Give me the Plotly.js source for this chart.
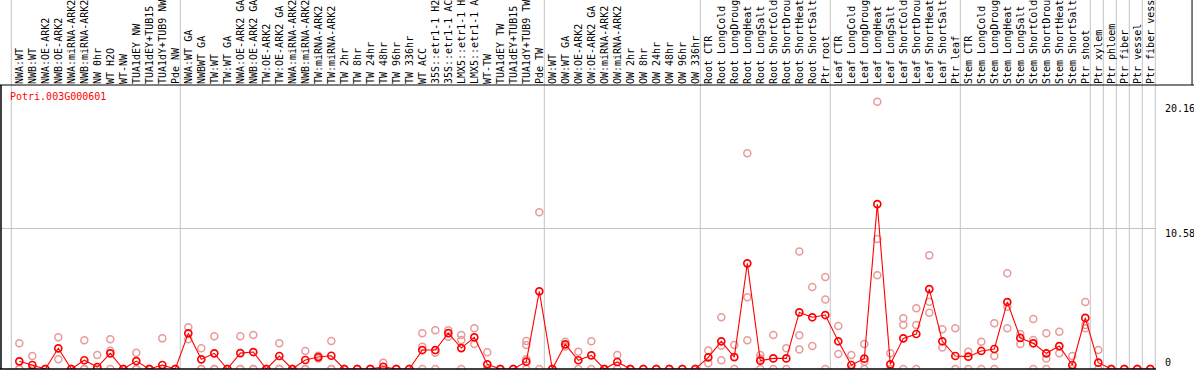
<!DOCTYPE html>
<html>
<head>
<meta charset="utf-8">
<script src="https://cdn.plot.ly/plotly-3.0.1.min.js"></script>
<style>
html,body{margin:0;padding:0;background:#ffffff;}
#chart{width:1194px;height:370px;}
</style>
</head>
<body>
<div id="chart"></div>
<script>
// ---------------- DATA ----------------
const geneName = "Potri.003G000601";

const categories = [
  "NWA:WT","NWB:WT","NWA:OE-ARK2","NWB:OE-ARK2","NWA:miRNA-ARK2","NWB:miRNA-ARK2","NW 0hr","WT H2O","WT-NW","TUA1dEY NW","TUA1dEY+TUB15 NW","TUA1dY+TUB9 NW","Pde NW",
  "NWA:WT GA","NWBWT GA","TW:WT","TW:WT GA","NWA:OE-ARK2 GA","NWB:OE-ARK2 GA","TW:OE-ARK2","TW:OE-ARK2 GA","NWA:miRNA-ARK2 GA","NWB:miRNA-ARK2 GA","TW:miRNA-ARK2","TW:miRNA-ARK2 GA",
  "TW 2hr","TW 8hr","TW 24hr","TW 48hr","TW 96hr","TW 336hr","WT ACC","35S::etr1-1 H2O","35S::etr1-1 ACC","LMX5::etr1-1 H2O","LMX5::etr1-1 ACC","WT-TW","TUA1dEY TW","TUA1dEY+TUB15 TW","TUA1dY+TUB9 TW","Pde TW",
  "OW:WT","OW:WT GA","OW:OE-ARK2","OW:OE-ARK2 GA","OW:miRNA-ARK2","OW:miRNA-ARK2 GA","OW 2hr","OW 8hr","OW 24hr","OW 48hr","OW 96hr","OW 336hr",
  "Root CTR","Root LongCold","Root LongDrought","Root LongHeat","Root LongSalt","Root ShortCold","Root ShortDrought","Root ShortHeat","Root ShortSalt","Ptr root",
  "Leaf CTR","Leaf LongCold","Leaf LongDrought","Leaf LongHeat","Leaf LongSalt","Leaf ShortCold","Leaf ShortDrought","Leaf ShortHeat","Leaf ShortSalt","Ptr leaf",
  "Stem CTR","Stem LongCold","Stem LongDrought","Stem LongHeat","Stem LongSalt","Stem ShortCold","Stem ShortDrought","Stem ShortHeat","Stem ShortSalt","Ptr shoot",
  "Ptr xylem","Ptr phloem","Ptr fiber","Ptr vessel","Ptr fiber vessel"
];

const meanValues = [
  0.58,0.30,0,1.56,0,0.66,0.15,1.18,0,0.60,0,0.30,0,
  2.69,0.73,1.18,0,1.20,1.28,0,0.98,0,0.68,0.90,1.00,
  0,0,0,0.17,0,0,1.43,1.43,2.71,1.58,2.39,0.35,0,0,0.55,5.86,
  0,1.86,0.66,1.03,0,0.53,0,0,0,0,0,0,
  0.88,2.09,0.90,7.97,0.63,0.80,0.80,4.27,3.90,4.07,
  2.09,0.30,0.78,12.44,0.35,2.31,2.64,6.03,2.09,0.98,
  0.93,1.36,1.51,5.05,2.34,1.94,1.18,1.73,0.30,3.85,
  0.48,0,0,0,0
];

const rep1 = [
  1.94,0.98,0,2.39,0,2.16,1.06,2.24,0,1.23,0,2.31,0,
  3.14,1.56,2.47,0,2.47,2.56,0,1.94,0,1.36,1.00,2.11,
  0,0,0,0.48,0,0,2.69,2.92,2.92,2.56,3.07,1.26,0,0,2.11,11.82,
  0,2.06,1.31,2.09,0,1.06,0,0,0,0,0,0,
  1.40,3.90,1.81,16.27,1.06,2.56,1.56,8.87,6.18,6.94,
  3.24,1.06,1.89,20.16,1.18,3.82,4.58,8.57,2.99,3.07,
  1.31,2.06,3.45,7.22,2.64,3.77,2.69,2.81,0.98,5.05,
  1.43,0,0,0,0
];

const rep2 = [
  0,0,0,0.73,0,0,0,1.38,0,0,0,0,0,
  2.24,0,0,0,0,0,0,0,0,0,0.80,0,
  0,0,0,0,0,0,1.68,1.23,2.44,2.19,1.89,0,0,0,1.81,0,
  0,1.70,0,0,0,0,0,0,0,0,0,0,
  0.43,1.76,0,5.41,0.80,0,0,2.54,1.73,5.25,
  1.13,0,0.55,9.80,0,3.32,3.32,5.08,1.63,0,
  0,0,0.98,4.70,1.89,2.19,0.80,1.18,0,3.32,
  0,0,0,0,0
];

const rep3 = [
  0,0,0,null,0,0,0,0,0,0,0,0,0,
  null,0,0,0,0,0,0,0,0,0,null,0,
  0,0,0,0,0,0,0,0,null,0,null,0,0,0,0.73,null,
  0,null,null,null,0,null,0,0,0,0,0,0,
  null,0.66,null,2.16,0,null,null,1.48,null,0,
  null,null,0,7.07,null,0,0,4.25,null,null,
  null,null,0,3.07,null,0,0,null,null,3.07,
  null,0,0,0,0
];

const rep4 = [
  null,null,null,null,null,null,null,null,null,null,null,null,null,
  null,null,null,null,null,null,null,null,null,null,null,null,
  null,null,null,null,null,null,null,null,null,null,null,null,null,null,0,null,
  null,null,null,null,null,null,null,null,null,null,null,null,
  null,null,null,null,null,null,null,null,null,null,
  null,null,null,null,null,null,null,null,null,null,
  null,null,null,null,null,null,null,null,null,null,
  null,null,null,null,null
];

const groupStarts = [0, 13, 41, 53, 63, 73, 83, 84, 85, 86, 87, 88];
const gridValue = 10.58;
const axisLabels = ["20.16", "10.58", "0"];
const axisLabelValues = [20.16, 10.58, 0];

// ---------------- BUILD ----------------
const idx = categories.map((_, i) => i);
const repX = [], repY = [];
[rep1, rep2, rep3, rep4].forEach(arr => {
  arr.forEach((v, i) => { if (v !== null) { repX.push(i); repY.push(v); } });
});

const MONO = "DejaVu Sans Mono, Liberation Mono, monospace";

const traces = [
  {
    x: repX, y: repY, type: "scatter", mode: "markers",
    marker: {symbol: "circle-open", size: 7, color: "#e89a9a", line: {width: 1.5, color: "#e89a9a"}},
    hoverinfo: "skip", showlegend: false
  },
  {
    x: idx, y: meanValues, type: "scatter", mode: "lines+markers",
    line: {color: "#ff0000", width: 1.1},
    marker: {symbol: "circle-open", size: 7, color: "#ff0000", line: {width: 1.7, color: "#ff0000"}},
    showlegend: false
  }
];

const shapes = [];
groupStarts.forEach(g => {
  shapes.push({type: "line", xref: "x", yref: "paper", x0: g - 8/13, x1: g - 8/13, y0: 0, y1: 1.31,
    line: {color: "#c4c4c4", width: 1}, layer: "below"});
});
// header bottom line
shapes.push({type: "line", xref: "paper", yref: "paper", x0: -0.01, x1: 1.04, y0: 1, y1: 1, line: {color: "#000", width: 1}});
// plot bottom line
shapes.push({type: "line", xref: "paper", yref: "paper", x0: -0.01, x1: 1.0, y0: 0, y1: 0, line: {color: "#000", width: 1.5}});
// left border
shapes.push({type: "line", xref: "paper", yref: "paper", x0: 0, x1: 0, y0: 0, y1: 1, line: {color: "#000", width: 1.5}});
// right top border
shapes.push({type: "line", xref: "paper", yref: "paper", x0: 1.0312, x1: 1.0312, y0: 1, y1: 1.31, line: {color: "#000", width: 1}});

const annotations = [
  {text: geneName, xref: "paper", yref: "paper", x: 0.0069, y: 0.958, xanchor: "left", yanchor: "middle",
   showarrow: false, font: {family: MONO, size: 10, color: "#ff0000"}, borderpad: 0}
];
axisLabels.forEach((t, k) => {
  const v = axisLabelValues[k];
  annotations.push({text: t, xref: "paper", yref: "y", x: 1.0069, y: v, xanchor: "left",
    yanchor: v === 0 ? "bottom" : "top", yshift: v === 10.58 ? 2 : 0,
    showarrow: false, font: {family: MONO, size: 10, color: "#000"}, borderpad: 0});
});

const layout = {
  width: 1194, height: 370,
  margin: {l: 1, r: 38, t: 85, b: 1, pad: 0},
  paper_bgcolor: "#ffffff", plot_bgcolor: "#ffffff",
  showlegend: false,
  xaxis: {
    range: [-1.408, 87.438], side: "top", tickmode: "array", tickvals: idx, ticktext: categories,
    tickangle: -90, tickfont: {family: MONO, size: 10, color: "#000"}, ticks: "",
    showgrid: false, zeroline: false, showline: false, automargin: false, fixedrange: true
  },
  yaxis: {
    range: [0, 21.42], tickmode: "array", tickvals: [gridValue], showticklabels: false,
    showgrid: true, gridcolor: "#c4c4c4", gridwidth: 1, zeroline: false, showline: false,
    automargin: false, fixedrange: true
  },
  shapes: shapes,
  annotations: annotations
};

Plotly.newPlot("chart", traces, layout, {staticPlot: true, displayModeBar: false});
</script>
</body>
</html>
